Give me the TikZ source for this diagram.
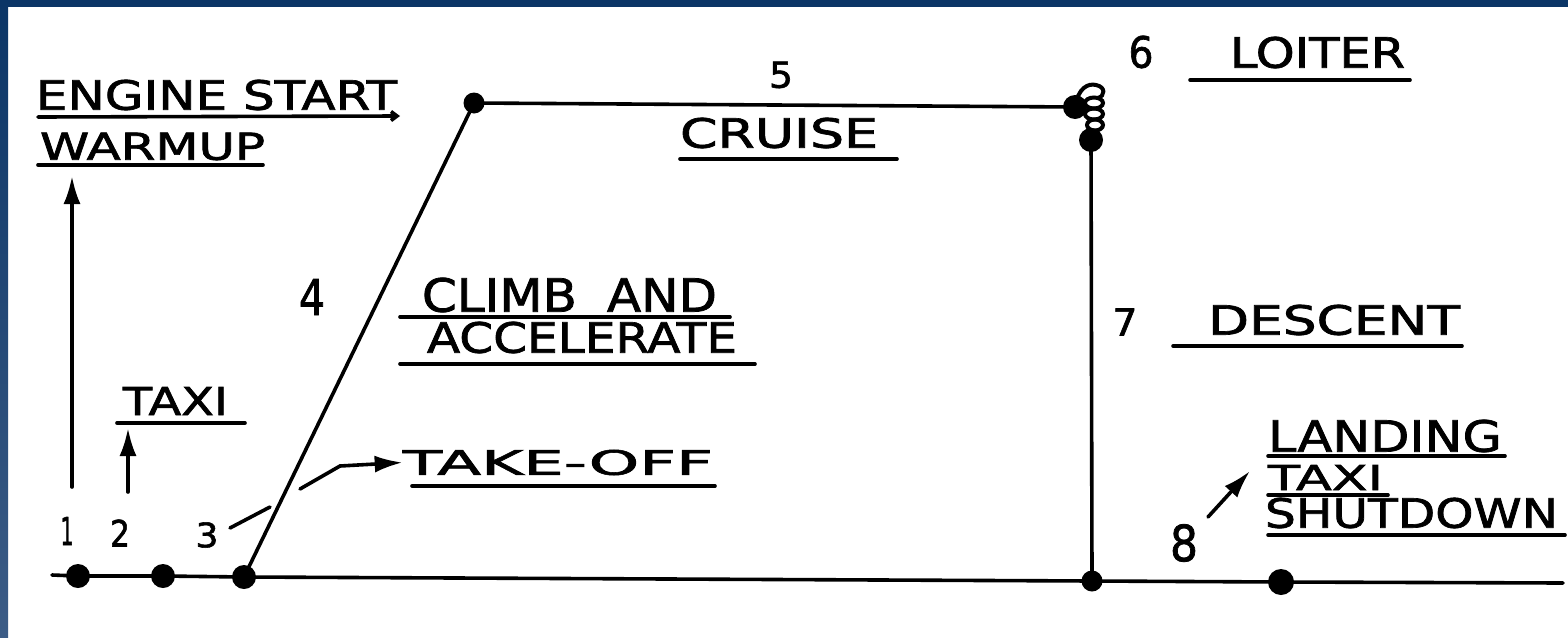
\documentclass[tikz,border=0pt]{standalone}
\usepackage{fontspec}
\setmainfont{DejaVu Sans}[FakeBold=1.6]
\usetikzlibrary{arrows.meta}
\definecolor{frameblue}{HTML}{0B3566}
\definecolor{framebluelight}{HTML}{3C5C86}
\newcommand{\fitlbl}[3]{\resizebox{#1pt}{#2pt}{#3}}
\tikzset{
  ln/.style={line width=3.6pt, line cap=round},
  ul/.style={line width=3.6pt, line cap=round},
  dot/.style={circle, fill=black, inner sep=0pt, minimum size=24pt},
  lbl/.style={inner sep=0pt, anchor=center},
  pointer/.style={ln, -{Latex[length=28pt,width=17pt]}},
}
\begin{document}
\begin{tikzpicture}[x=1pt,y=-1pt]
\useasboundingbox (0,0) rectangle (1568,637);
\fill[white] (0,0) rectangle (1568,637);
% frame
\fill[frameblue] (0,0) rectangle (1568,7);
\shade[top color=frameblue, bottom color=framebluelight] (0,0) rectangle (8,637);

% dots
\node[dot] (d1) at (78,576) {};
\node[dot] (d2) at (163,576) {};
\node[dot] (d3) at (244,577) {};
\node[dot, minimum size=21pt] (d4) at (474,103) {};
\node[dot] (d5) at (1075,107) {};
\node[dot] (d6) at (1091,140) {};
\node[dot, minimum size=21pt] (d7) at (1092,581) {};
\node[dot, minimum width=26pt, minimum height=21pt] (d8) at (1281,582) {};
\coordinate (g0) at (52,575);
\coordinate (g1) at (1563,583);

% ground, climb, cruise, descent
\draw[ln] (g0) -- (d1.center) -- (d2.center) -- (d3.center) -- (d7.center) -- (d8.center) -- (g1);
\draw[ln] (d3.center) -- (d4.center) -- (d5.center);
\draw[ln] (d6.center) -- (d7.center);

% loiter coil
\draw[line width=4pt] (d5.center) .. controls (1078,88) and (1088,83) .. (1096,85)
  .. controls (1106,87) and (1105,96) .. (1098,98);
\draw[line width=4pt] (1094,103) ellipse (9 and 5.5);
\draw[line width=4pt] (1094,114) ellipse (9 and 5.5);
\draw[line width=4pt] (1095,125) ellipse (8 and 5.5);

% labels
\node[lbl] (es) at (216.5,95) {\fitlbl{361}{30}{ENGINE START}};
\node[lbl] (wu) at (152.5,146.5) {\fitlbl{225}{27}{WARMUP}};
\node[lbl] (tx) at (175.5,401) {\fitlbl{105}{28}{TAXI}};
\node[lbl] (n1) at (67,531) {\fitlbl{13}{28}{1}};
\node[lbl] (n2) at (120,533) {\fitlbl{20}{27}{2}};
\node[lbl] (n3) at (207,535) {\fitlbl{23}{25}{3}};
\node[lbl] (n4) at (312,297) {\fitlbl{26}{36}{4}};
\node[lbl] (n5) at (781,75) {\fitlbl{24}{26}{5}};
\node[lbl] (n6) at (1141,52) {\fitlbl{25}{32}{6}};
\node[lbl] (n7) at (1125,322) {\fitlbl{25}{27}{7}};
\node[lbl] (n8) at (1184,543) {\fitlbl{28}{37}{8}};
\node[lbl] (cr) at (779,133) {\fitlbl{198}{30}{CRUISE}};
\node[lbl] (lo) at (1317.5,52.5) {\fitlbl{175}{31}{LOITER}};
\node[lbl] (ca) at (569.5,295) {\fitlbl{295}{34}{CLIMB\hspace{0.6em}AND}};
\node[lbl] (ac) at (582,337.5) {\fitlbl{310}{31}{ACCELERATE}};
\node[lbl] (de) at (1334,320) {\fitlbl{252}{30}{DESCENT}};
\node[lbl] (to) at (558,462.5) {\fitlbl{310}{25}{TAKE-OFF}};
\node[lbl] (la) at (1385,436) {\fitlbl{234}{32}{LANDING}};
\node[lbl] (tx2) at (1325.5,477.5) {\fitlbl{115}{25}{TAXI}};
\node[lbl] (sd) at (1411.5,513) {\fitlbl{293}{30}{SHUTDOWN}};

% underlines
\draw[ul, -{Straight Barb[length=6pt,width=9pt]}] (38,117) -- (400,116);
\draw[ul] (38,165) -- (263,165);
\draw[ul] (117,423) -- (245,423);
\draw[ul] (412,486) -- (715,486);
\draw[ul] (680,159) -- (897,159);
\draw[ul] (1190,80) -- (1410,80);
\draw[ul] (400,317) -- (730,317);
\draw[ul] (400,364) -- (755,364);
\draw[ul] (1173,346) -- (1462,346);
\draw[ul] (1268,456) -- (1505,456);
\draw[ul] (1268,495) -- (1388,495);
\draw[ul] (1268,535) -- (1565,535);

% pointers
\coordinate (a1s) at (72,487);
\coordinate (a1e) at (72,176);
\draw[pointer] (a1s) -- (a1e);
\coordinate (a2s) at (128,492);
\coordinate (a2e) at (128,428);
\draw[pointer] (a2s) -- (a2e);
\coordinate (t3a) at (230,528);
\coordinate (t3b) at (270,507);
\draw[ln] (t3a) -- (t3b);
\coordinate (tk0) at (300,489);
\coordinate (tk1) at (340,466);
\draw[pointer] (tk0) -- (tk1) -- (to.west);
\coordinate (a8s) at (1208,517);
\coordinate (a8e) at (1250,471);
\draw[pointer] (a8s) -- (a8e);
\end{tikzpicture}
\end{document}
